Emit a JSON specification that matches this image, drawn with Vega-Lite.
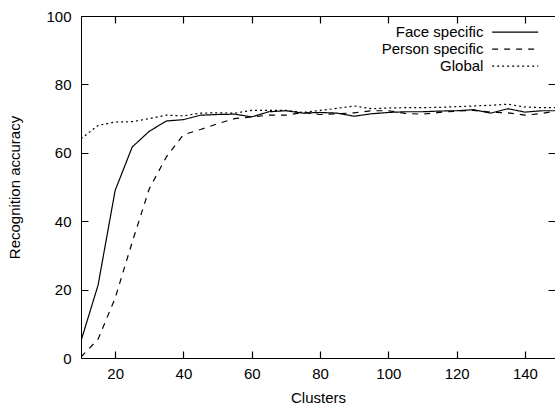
{
  "$schema": "https://vega.github.io/schema/vega-lite/v6.json",
  "width": 474,
  "height": 342,
  "autosize": {"type": "none"},
  "padding": {"left": 81, "top": 16, "right": 0, "bottom": 49},
  "background": "white",
  "config": {
    "view": {"stroke": "black", "strokeWidth": 1},
    "axis": {
      "labelFont": "Liberation Sans", "labelFontSize": 15, "labelColor": "black",
      "titleFont": "Liberation Sans", "titleFontSize": 15, "titleFontWeight": "normal", "titleColor": "black",
      "domainColor": "black", "ticks": false, "grid": true, "gridColor": "black", "gridWidth": 1.2, "gridOpacity": 1
    }
  },
  "data": {"values": [
    {"clusters": 10, "series": "Face specific", "accuracy": 5},
    {"clusters": 15, "series": "Face specific", "accuracy": 21.3},
    {"clusters": 20, "series": "Face specific", "accuracy": 49},
    {"clusters": 25, "series": "Face specific", "accuracy": 61.7},
    {"clusters": 30, "series": "Face specific", "accuracy": 66.3},
    {"clusters": 35, "series": "Face specific", "accuracy": 69.3},
    {"clusters": 40, "series": "Face specific", "accuracy": 69.7},
    {"clusters": 45, "series": "Face specific", "accuracy": 71},
    {"clusters": 50, "series": "Face specific", "accuracy": 71.2},
    {"clusters": 55, "series": "Face specific", "accuracy": 71.3},
    {"clusters": 60, "series": "Face specific", "accuracy": 70.5},
    {"clusters": 65, "series": "Face specific", "accuracy": 72},
    {"clusters": 70, "series": "Face specific", "accuracy": 72.3},
    {"clusters": 75, "series": "Face specific", "accuracy": 71.6},
    {"clusters": 80, "series": "Face specific", "accuracy": 71.8},
    {"clusters": 85, "series": "Face specific", "accuracy": 71.6},
    {"clusters": 90, "series": "Face specific", "accuracy": 70.7},
    {"clusters": 95, "series": "Face specific", "accuracy": 71.4},
    {"clusters": 100, "series": "Face specific", "accuracy": 71.8},
    {"clusters": 105, "series": "Face specific", "accuracy": 72},
    {"clusters": 110, "series": "Face specific", "accuracy": 72},
    {"clusters": 115, "series": "Face specific", "accuracy": 72.2},
    {"clusters": 120, "series": "Face specific", "accuracy": 72.3},
    {"clusters": 125, "series": "Face specific", "accuracy": 72.6},
    {"clusters": 130, "series": "Face specific", "accuracy": 71.6},
    {"clusters": 135, "series": "Face specific", "accuracy": 72.9},
    {"clusters": 140, "series": "Face specific", "accuracy": 71.9},
    {"clusters": 145, "series": "Face specific", "accuracy": 72.3},
    {"clusters": 150, "series": "Face specific", "accuracy": 72.3},
    {"clusters": 10, "series": "Person specific", "accuracy": 0.3},
    {"clusters": 15, "series": "Person specific", "accuracy": 5.5},
    {"clusters": 20, "series": "Person specific", "accuracy": 17.5},
    {"clusters": 25, "series": "Person specific", "accuracy": 33.9},
    {"clusters": 30, "series": "Person specific", "accuracy": 49.5},
    {"clusters": 35, "series": "Person specific", "accuracy": 58.8},
    {"clusters": 40, "series": "Person specific", "accuracy": 65.3},
    {"clusters": 45, "series": "Person specific", "accuracy": 66.8},
    {"clusters": 50, "series": "Person specific", "accuracy": 68.5},
    {"clusters": 55, "series": "Person specific", "accuracy": 70},
    {"clusters": 60, "series": "Person specific", "accuracy": 70.5},
    {"clusters": 65, "series": "Person specific", "accuracy": 71},
    {"clusters": 70, "series": "Person specific", "accuracy": 71},
    {"clusters": 75, "series": "Person specific", "accuracy": 71.8},
    {"clusters": 80, "series": "Person specific", "accuracy": 71.2},
    {"clusters": 85, "series": "Person specific", "accuracy": 71.4},
    {"clusters": 90, "series": "Person specific", "accuracy": 71.7},
    {"clusters": 95, "series": "Person specific", "accuracy": 72.3},
    {"clusters": 100, "series": "Person specific", "accuracy": 72.3},
    {"clusters": 105, "series": "Person specific", "accuracy": 71.5},
    {"clusters": 110, "series": "Person specific", "accuracy": 71.3},
    {"clusters": 115, "series": "Person specific", "accuracy": 71.8},
    {"clusters": 120, "series": "Person specific", "accuracy": 72.2},
    {"clusters": 125, "series": "Person specific", "accuracy": 72.4},
    {"clusters": 130, "series": "Person specific", "accuracy": 71.9},
    {"clusters": 135, "series": "Person specific", "accuracy": 71.7},
    {"clusters": 140, "series": "Person specific", "accuracy": 71},
    {"clusters": 145, "series": "Person specific", "accuracy": 71.5},
    {"clusters": 150, "series": "Person specific", "accuracy": 72.4},
    {"clusters": 10, "series": "Global", "accuracy": 64.1},
    {"clusters": 15, "series": "Global", "accuracy": 68},
    {"clusters": 20, "series": "Global", "accuracy": 69},
    {"clusters": 25, "series": "Global", "accuracy": 69.1},
    {"clusters": 30, "series": "Global", "accuracy": 70},
    {"clusters": 35, "series": "Global", "accuracy": 71},
    {"clusters": 40, "series": "Global", "accuracy": 70.8},
    {"clusters": 45, "series": "Global", "accuracy": 71.6},
    {"clusters": 50, "series": "Global", "accuracy": 71.7},
    {"clusters": 55, "series": "Global", "accuracy": 71.6},
    {"clusters": 60, "series": "Global", "accuracy": 72.4},
    {"clusters": 65, "series": "Global", "accuracy": 72.4},
    {"clusters": 70, "series": "Global", "accuracy": 72.4},
    {"clusters": 75, "series": "Global", "accuracy": 71.8},
    {"clusters": 80, "series": "Global", "accuracy": 72.4},
    {"clusters": 85, "series": "Global", "accuracy": 73},
    {"clusters": 90, "series": "Global", "accuracy": 73.7},
    {"clusters": 95, "series": "Global", "accuracy": 72.9},
    {"clusters": 100, "series": "Global", "accuracy": 73.1},
    {"clusters": 105, "series": "Global", "accuracy": 73.2},
    {"clusters": 110, "series": "Global", "accuracy": 73.2},
    {"clusters": 115, "series": "Global", "accuracy": 73.3},
    {"clusters": 120, "series": "Global", "accuracy": 73.5},
    {"clusters": 125, "series": "Global", "accuracy": 73.7},
    {"clusters": 130, "series": "Global", "accuracy": 73.9},
    {"clusters": 135, "series": "Global", "accuracy": 74.2},
    {"clusters": 140, "series": "Global", "accuracy": 73.4},
    {"clusters": 145, "series": "Global", "accuracy": 73.2},
    {"clusters": 150, "series": "Global", "accuracy": 73.2}
  ]},
  "mark": {"type": "line", "color": "black", "strokeWidth": 1.2, "clip": true},
  "encoding": {
    "x": {"field": "clusters", "type": "quantitative",
          "scale": {"domain": [10, 148.8], "nice": false, "zero": false},
          "axis": {"title": "Clusters", "values": [20, 40, 60, 80, 100, 120, 140], "labelPadding": 8, "titlePadding": 9, "gridDash": [7, 328]}},
    "y": {"field": "accuracy", "type": "quantitative",
          "scale": {"domain": [0, 100], "nice": false},
          "axis": {"title": "Recognition accuracy", "values": [0, 20, 40, 60, 80, 100], "labelPadding": 10, "titlePadding": 23, "gridDash": [7, 460]}},
    "strokeDash": {"field": "series", "type": "nominal",
          "scale": {"domain": ["Face specific", "Person specific", "Global"], "range": [[1, 0], [6, 6], [2, 3]]},
          "legend": {"orient": "none", "legendX": 425.7, "legendY": 7.7, "title": null,
                     "symbolType": "M-3,0H3", "symbolSize": 236, "symbolStrokeWidth": 1.2, "symbolStrokeColor": "black",
                     "labelAlign": "right", "labelOffset": -40.3, "labelFont": "Liberation Sans", "labelFontSize": 15,
                     "labelColor": "black", "rowPadding": 0, "padding": 0}}
  }
}
